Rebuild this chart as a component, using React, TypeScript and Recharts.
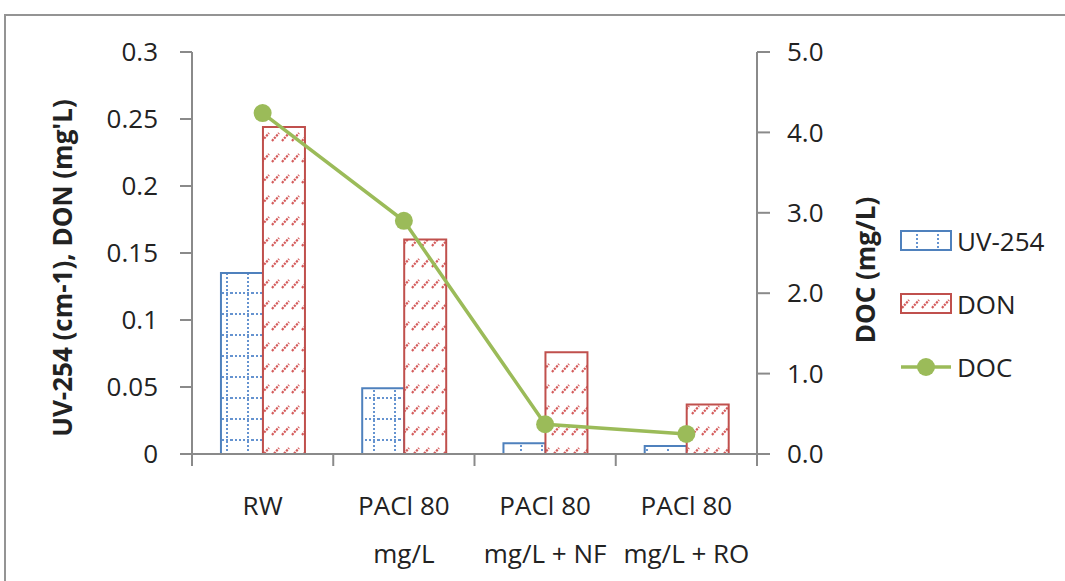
import React from 'react';
import { ComposedChart, Bar, Line, XAxis, YAxis, Legend } from 'recharts';

const CATEGORIES = ['RW', 'PACl 80 mg/L', 'PACl 80 mg/L + NF', 'PACl 80 mg/L + RO'];
const UV254 = [0.135, 0.049, 0.008, 0.006];
const DON = [0.244, 0.16, 0.076, 0.037];
const DOC = [4.24, 2.9, 0.37, 0.25];
const LEFT_TICKS = [0, 0.05, 0.1, 0.15, 0.2, 0.25, 0.3];
const RIGHT_TICKS = [0, 1, 2, 3, 4, 5];
const LEGEND_ORDER = ['uv', 'don', 'doc'];

const data = CATEGORIES.map((name, i) => ({
  name,
  uv: UV254[i],
  don: DON[i],
  doc: DOC[i],
}));

const W = 1065;
const H = 581;
const PLOT_W = 565;
const AXIS_GREY = '#8a8a8a';
const TEXT = '#222222';
const FONT = '"Open Sans", sans-serif';
const FS = 26;
const BLUE = '#4f81bd';
const RED = '#c0504d';
const GREEN = '#9bbb59';

// dotted grid (blue) and dotted diagonal dashes (red) fills
const Patterns: React.FC<{ prefix: string }> = ({ prefix }) => (
  <defs>
    <pattern id={`${prefix}-grid`} patternUnits="userSpaceOnUse" width={21} height={21}>
      <rect width={21} height={21} fill="#fff" />
      <line x1={0} y1={20} x2={21} y2={20} stroke="#6593d0" strokeWidth={2} strokeDasharray="2 2" />
      <line x1={17} y1={0} x2={17} y2={21} stroke="#6593d0" strokeWidth={2} strokeDasharray="2 2" />
    </pattern>
    <pattern id={`${prefix}-dash`} patternUnits="userSpaceOnUse" width={10} height={21}>
      <rect width={10} height={21} fill="#fff" />
      <line x1={2} y1={15} x2={9} y2={7} stroke="#d45a5a" strokeWidth={2.2} strokeDasharray="2.2 1" />
    </pattern>
  </defs>
);

const CategoryTick = (props: any) => {
  const { x, y, payload, index, visibleTicksCount } = props;
  const half = PLOT_W / 8;
  const words = String(payload.value).split(' ');
  const lines = words.length > 2
    ? [words.slice(0, 2).join(' '), words.slice(2).join(' ')]
    : [words.join(' ')];
  return (
    <g>
      <line x1={x - half} y1={y} x2={x - half} y2={y + 12} stroke={AXIS_GREY} strokeWidth={2} />
      {index === visibleTicksCount - 1 && (
        <line x1={x + half} y1={y} x2={x + half} y2={y + 12} stroke={AXIS_GREY} strokeWidth={2} />
      )}
      {lines.map((l, i) => (
        <text
          key={i}
          x={x}
          y={y + 51 + i * 48}
          textAnchor="middle"
          dominantBaseline="central"
          fill={TEXT}
          fontSize={FS}
          fontFamily={FONT}
        >
          {l}
        </text>
      ))}
    </g>
  );
};

const AxisTitle = ({ viewBox, value, dx, dy }: any) => {
  const cx = viewBox.x + dx;
  const cy = viewBox.y + viewBox.height / 2 + dy;
  return (
    <text
      x={cx}
      y={cy}
      transform={`rotate(-90, ${cx}, ${cy})`}
      textAnchor="middle"
      dominantBaseline="central"
      fill={TEXT}
      fontSize={FS}
      fontWeight={700}
      fontFamily={FONT}
    >
      {value}
    </text>
  );
};

const LegendIcon = ({ dataKey }: { dataKey: string }) => (
  <svg width={52} height={22} style={{ display: 'block' }}>
    <Patterns prefix="lg" />
    {dataKey === 'doc' ? (
      <g>
        <line x1={1} y1={11} x2={51} y2={11} stroke={GREEN} strokeWidth={3.5} />
        <circle cx={26} cy={11} r={9} fill={GREEN} />
      </g>
    ) : (
      <rect
        x={1}
        y={1}
        width={50}
        height={19}
        fill={dataKey === 'uv' ? 'url(#lg-grid)' : 'url(#lg-dash)'}
        stroke={dataKey === 'uv' ? BLUE : RED}
        strokeWidth={2}
      />
    )}
  </svg>
);

const LegendBox = ({ payload }: any) => {
  const items = [...(payload || [])].sort(
    (a: any, b: any) => LEGEND_ORDER.indexOf(a.dataKey) - LEGEND_ORDER.indexOf(b.dataKey)
  );
  return (
    <div style={{ fontFamily: FONT }}>
      {items.map((p: any) => (
        <div key={p.value} style={{ display: 'flex', alignItems: 'center', height: 63 }}>
          <LegendIcon dataKey={p.dataKey} />
          <span style={{ marginLeft: 5, fontSize: FS, color: TEXT }}>{p.value}</span>
        </div>
      ))}
    </div>
  );
};

export default function App() {
  return (
    <div
      style={{
        position: 'absolute',
        left: 0,
        top: 0,
        width: W,
        height: H,
        background: '#fff',
        overflow: 'hidden',
        fontFamily: FONT,
      }}
    >
      <div
        style={{
          position: 'absolute',
          left: 4,
          top: 14,
          width: W,
          height: H,
          borderTop: '2px solid #949494',
          borderLeft: '2px solid #949494',
        }}
      />
      <div style={{ position: 'absolute', left: 0, top: 0 }}>
        <ComposedChart
          width={W}
          height={H}
          data={data}
          margin={{ top: 52, right: 0, bottom: 0, left: 0 }}
          barCategoryGap="20.5%"
          barGap={0}
        >
          <Patterns prefix="ch" />
          <XAxis
            dataKey="name"
            height={127}
            stroke={AXIS_GREY}
            strokeWidth={2}
            tickLine={false}
            tickSize={0}
            tickMargin={0}
            tick={<CategoryTick />}
            interval={0}
          />
          <YAxis
            yAxisId="left"
            width={192}
            domain={[0, 0.3]}
            ticks={LEFT_TICKS}
            stroke={AXIS_GREY}
            strokeWidth={2}
            tickSize={12}
            tickMargin={22}
            tick={{ fill: TEXT, fontSize: FS, fontFamily: FONT }}
            label={<AxisTitle value="UV-254 (cm-1), DON (mg'L)" dx={62} dy={15} />}
          />
          <YAxis
            yAxisId="right"
            orientation="right"
            width={143}
            domain={[0, 5]}
            ticks={RIGHT_TICKS}
            tickFormatter={(v: number) => v.toFixed(1)}
            stroke={AXIS_GREY}
            strokeWidth={2}
            tickSize={13}
            tickMargin={17}
            tick={{ fill: TEXT, fontSize: FS, fontFamily: FONT }}
            label={<AxisTitle value="DOC (mg/L)" dx={108} dy={17} />}
          />
          <Legend
            layout="vertical"
            align="right"
            verticalAlign="middle"
            content={<LegendBox />}
            wrapperStyle={{ left: 900, top: 209, width: 165 }}
          />
          <Bar
            yAxisId="left"
            dataKey="uv"
            name="UV-254"
            fill="url(#ch-grid)"
            stroke={BLUE}
            strokeWidth={2}
            isAnimationActive={false}
          />
          <Bar
            yAxisId="left"
            dataKey="don"
            name="DON"
            fill="url(#ch-dash)"
            stroke={RED}
            strokeWidth={2}
            isAnimationActive={false}
          />
          <Line
            yAxisId="right"
            dataKey="doc"
            name="DOC"
            type="linear"
            stroke={GREEN}
            strokeWidth={3.5}
            dot={{ r: 9, fill: GREEN, stroke: 'none' }}
            activeDot={false}
            isAnimationActive={false}
          />
        </ComposedChart>
      </div>
    </div>
  );
}
